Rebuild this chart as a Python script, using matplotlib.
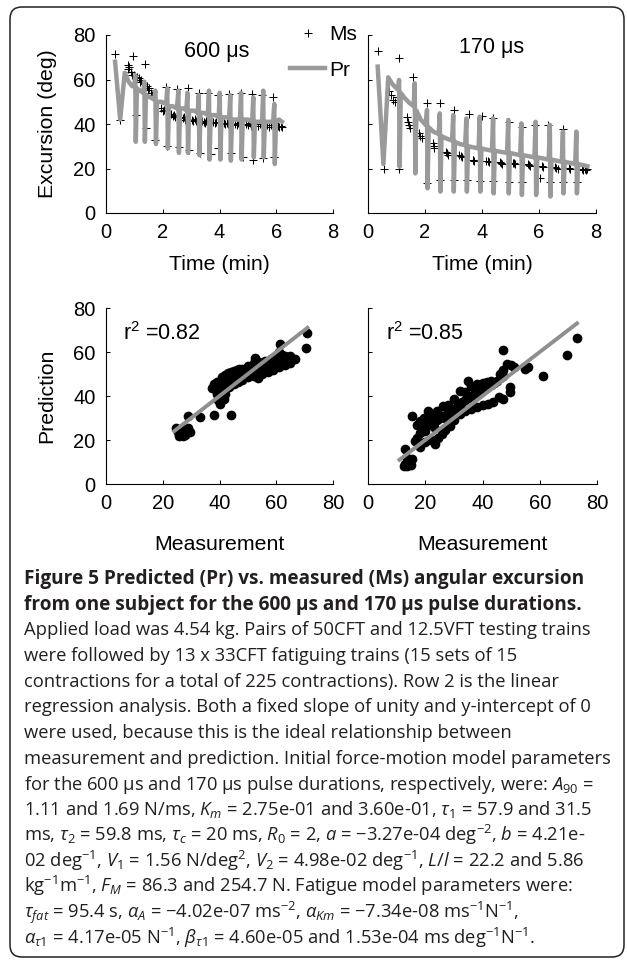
import numpy as np
import matplotlib as mpl
mpl.use('Agg')
import matplotlib.pyplot as plt
from matplotlib.lines import Line2D
from matplotlib.patches import FancyBboxPatch

# ---- data ----
# top row: measured (Ms) and predicted (Pr) excursion, (time [min], deg)
ms_600 = [(0.32, 71.5), (0.50, 42.0), (0.76, 66.5), (0.79, 64.5), (0.82, 65.5),
          (0.88, 63.5), (0.92, 62.0), (0.95, 70.6), (1.00, 62.0), (1.05, 44.0),
          (1.09, 61.0), (1.15, 60.5), (1.20, 59.0), (1.25, 60.0), (1.33, 58.0),
          (1.36, 67.0), (1.40, 38.0), (1.45, 57.0), (1.48, 55.5), (1.52, 56.0),
          (1.57, 54.0), (1.62, 53.0), (1.66, 52.0), (1.74, 33.0), (1.95, 47.0),
          (2.00, 46.0), (2.04, 46.5), (2.10, 56.5), (2.16, 30.0), (2.30, 44.5),
          (2.36, 43.5), (2.40, 44.0), (2.44, 43.0), (2.49, 55.6), (2.57, 29.8),
          (2.66, 43.0), (2.70, 42.5), (2.75, 43.2), (2.80, 42.0), (2.89, 56.0),
          (2.93, 28.3), (3.02, 42.0), (3.07, 41.5), (3.12, 42.3), (3.17, 41.2),
          (3.26, 54.0), (3.31, 27.0), (3.40, 41.5), (3.45, 41.0), (3.50, 40.6),
          (3.54, 41.4), (3.60, 54.0), (3.70, 26.5), (3.78, 40.8), (3.83, 40.3),
          (3.88, 41.0), (3.94, 53.0), (3.96, 29.0), (4.15, 40.5), (4.20, 40.0),
          (4.26, 40.6), (4.30, 39.8), (4.35, 53.5), (4.40, 27.0), (4.55, 40.2),
          (4.60, 39.6), (4.66, 40.4), (4.77, 54.0), (4.83, 25.3), (4.95, 40.0),
          (5.00, 39.5), (5.06, 40.3), (5.10, 39.2), (5.15, 53.5), (5.18, 23.8),
          (5.30, 39.8), (5.36, 39.2), (5.42, 40.0), (5.50, 53.0), (5.54, 24.9),
          (5.68, 39.5), (5.74, 38.8), (5.80, 39.6), (5.90, 52.0), (5.92, 25.3),
          (6.05, 39.3), (6.10, 38.6), (6.15, 39.2), (6.20, 38.8)]

pr_600 = [(0.32, 68.0), (0.50, 42.0), (0.66, 63.0), (0.80, 59.0), (0.92, 57.0),
          (1.00, 57.0), (1.03, 62.0), (1.05, 32.0), (1.09, 56.0), (1.20, 55.0),
          (1.31, 54.0), (1.35, 59.0), (1.37, 32.0), (1.41, 53.0), (1.55, 52.0),
          (1.70, 51.0), (1.74, 55.0), (1.76, 31.0), (1.80, 50.0), (1.95, 50.0),
          (2.12, 49.0), (2.16, 56.0), (2.18, 29.0), (2.22, 48.0), (2.35, 48.0),
          (2.50, 47.0), (2.55, 55.0), (2.57, 27.0), (2.61, 47.0), (2.75, 47.0),
          (2.83, 46.0), (2.87, 54.0), (2.89, 27.0), (2.93, 46.0), (3.10, 46.0),
          (3.23, 45.0), (3.27, 53.0), (3.29, 26.0), (3.33, 45.0), (3.48, 45.0),
          (3.59, 44.0), (3.63, 55.0), (3.65, 24.0), (3.69, 44.0), (3.85, 44.0),
          (3.97, 43.0), (4.01, 54.0), (4.03, 24.0), (4.07, 43.0), (4.22, 43.0),
          (4.34, 43.0), (4.38, 53.0), (4.40, 23.5), (4.44, 42.0), (4.60, 42.0),
          (4.72, 42.0), (4.76, 54.0), (4.78, 24.0), (4.82, 42.0), (5.00, 42.0),
          (5.15, 41.0), (5.19, 52.0), (5.21, 25.0), (5.25, 41.0), (5.40, 41.0),
          (5.50, 41.0), (5.54, 55.0), (5.56, 25.0), (5.60, 41.0), (5.75, 41.0),
          (5.89, 41.0), (5.93, 49.0), (5.95, 22.0), (5.99, 41.0), (6.10, 42.0),
          (6.20, 41.0)]

ms_170 = [(0.34, 73.0), (1.09, 69.5), (1.59, 61.3), (2.06, 49.3), (2.53, 49.3),
          (3.00, 46.3), (3.53, 44.5), (3.99, 43.5), (4.40, 42.6), (4.93, 41.0),
          (5.39, 38.5), (5.86, 39.6), (6.33, 39.6), (6.85, 37.6),
          (0.55, 20.0), (1.09, 20.0), (2.06, 13.3), (2.53, 14.8), (3.00, 14.8),
          (3.46, 14.8), (3.93, 14.3), (4.40, 14.3), (4.93, 13.8), (5.39, 13.8),
          (6.04, 15.6), (6.39, 13.8), (6.85, 13.8), (7.32, 13.8),
          (0.72, 55.0), (0.80, 53.0), (0.88, 51.0), (0.95, 50.0), (1.00, 52.0),
          (1.36, 43.3), (1.40, 41.0), (1.44, 39.5), (1.47, 38.0), (1.80, 35.8),
          (1.84, 34.5), (1.88, 33.6), (2.27, 31.5), (2.30, 30.0), (2.33, 29.0),
          (2.74, 27.5), (2.77, 26.8), (2.80, 26.0), (3.20, 26.0), (3.25, 25.5),
          (3.30, 25.0), (3.67, 24.0), (3.70, 23.6), (3.73, 23.3), (4.15, 23.5),
          (4.20, 23.3), (4.25, 22.8), (4.62, 22.8), (4.66, 22.5), (4.70, 22.2),
          (5.10, 22.6), (5.13, 22.3), (5.16, 21.9), (5.60, 22.0), (5.65, 21.7),
          (5.70, 21.3), (6.10, 21.2), (6.15, 20.8), (6.55, 20.5), (6.60, 20.2),
          (6.65, 19.9), (7.05, 20.4), (7.10, 20.0), (7.50, 19.8), (7.55, 19.4),
          (7.60, 19.9), (7.65, 19.3), (7.70, 19.6)]

pr_170 = [(0.34, 65.8), (0.54, 22.0), (0.71, 61.0), (0.85, 58.0), (1.00, 56.0),
          (1.06, 55.5), (1.09, 59.8), (1.11, 20.8), (1.15, 54.0), (1.30, 51.5),
          (1.45, 49.5), (1.60, 48.0), (1.64, 58.3), (1.66, 17.8), (1.70, 46.0),
          (1.85, 42.0), (2.03, 39.5), (2.07, 46.3), (2.09, 11.1), (2.13, 38.5),
          (2.30, 36.5), (2.48, 35.5), (2.52, 44.8), (2.54, 9.6), (2.58, 34.5),
          (2.75, 33.5), (2.95, 32.5), (2.99, 44.0), (3.01, 9.6), (3.05, 32.0),
          (3.22, 31.0), (3.41, 30.5), (3.45, 42.5), (3.47, 9.6), (3.51, 30.0),
          (3.70, 29.5), (3.88, 29.0), (3.92, 43.3), (3.94, 9.6), (3.98, 29.0),
          (4.15, 28.5), (4.35, 28.0), (4.39, 42.5), (4.41, 8.8), (4.45, 28.0),
          (4.65, 27.5), (4.88, 27.0), (4.92, 41.8), (4.94, 8.8), (4.98, 27.0),
          (5.15, 26.5), (5.34, 26.0), (5.38, 40.3), (5.40, 8.1), (5.44, 26.0),
          (5.65, 25.5), (5.84, 25.0), (5.88, 41.0), (5.90, 8.1), (5.94, 25.0),
          (6.15, 24.5), (6.34, 24.0), (6.38, 39.6), (6.40, 7.4), (6.44, 24.0),
          (6.62, 23.5), (6.80, 23.0), (6.84, 36.6), (6.86, 8.8), (6.90, 23.0),
          (7.10, 22.5), (7.27, 22.0), (7.31, 36.6), (7.33, 8.8), (7.37, 22.0),
          (7.55, 21.5), (7.70, 21.0)]

# bottom row: (measurement, prediction)
sc_600 = [(24.5, 25.5), (25.3, 23.5), (25.8, 22.0), (26.5, 24.2), (27.0, 21.8),
          (27.5, 23.2), (28.0, 22.4), (28.5, 24.3), (29.0, 25.6), (29.6, 23.6),
          (26.8, 25.0), (28.8, 31.0), (33.0, 30.5), (38.0, 31.5), (44.0, 31.5),
          (39.5, 38.0), (40.0, 36.5), (40.5, 39.0), (41.0, 40.5), (41.5, 38.5),
          (42.0, 41.0), (40.0, 41.5), (37.5, 43.5), (38.0, 45.5), (39.0, 46.5),
          (40.0, 47.0), (41.0, 48.5), (42.0, 49.5), (43.0, 50.5), (44.0, 51.0),
          (45.0, 51.5), (46.0, 52.0), (47.0, 52.5), (48.0, 52.5), (50.0, 53.5),
          (52.0, 55.0), (52.5, 57.5), (54.0, 55.5), (56.0, 56.0), (58.0, 57.0),
          (60.0, 58.0), (61.0, 60.0), (61.4, 63.6), (62.0, 58.5), (63.0, 58.0),
          (64.0, 57.5), (65.0, 58.0), (66.5, 57.0), (38.5, 43.0), (39.5, 44.0),
          (40.5, 45.0), (41.5, 45.5), (42.5, 46.5), (43.5, 47.5), (44.5, 48.0),
          (45.5, 49.0), (46.5, 49.5), (47.5, 50.0), (48.5, 50.5), (49.5, 51.0),
          (50.5, 51.5), (51.5, 52.0), (52.5, 52.5), (53.5, 53.0), (54.5, 53.5),
          (55.5, 54.0), (56.5, 54.5), (57.5, 55.0), (58.5, 55.5), (59.5, 56.0),
          (60.5, 56.0), (61.5, 56.5), (62.5, 56.5), (63.5, 56.0), (39.0, 41.0),
          (40.5, 42.0), (42.0, 43.0), (43.5, 44.0), (45.0, 45.5), (46.5, 46.5),
          (48.0, 47.5), (50.0, 48.5), (52.0, 49.0), (53.5, 48.0), (55.0, 50.0),
          (57.0, 51.0), (59.0, 52.0), (61.0, 53.0), (63.0, 54.0), (65.0, 55.0),
          (70.6, 62.0), (71.0, 68.6)]

sc_170 = [(12.5, 8.0), (13.0, 9.2), (13.5, 8.4), (14.0, 10.0), (14.5, 9.0),
          (15.0, 8.5), (14.6, 10.8), (15.3, 11.2), (13.5, 12.0), (12.9, 15.9),
          (15.2, 31.1), (16.4, 19.7), (17.0, 21.0), (17.0, 27.0), (18.0, 16.7),
          (18.0, 23.0), (18.0, 28.8), (19.0, 25.0), (19.5, 30.0), (20.0, 19.0),
          (20.0, 24.0), (21.0, 27.0), (21.0, 33.3), (22.0, 20.0), (22.0, 28.0),
          (22.0, 31.0), (23.0, 26.0), (23.4, 18.2), (24.0, 29.0), (24.0, 33.0),
          (24.5, 21.0), (25.0, 30.0), (25.7, 22.7), (26.0, 31.0), (26.3, 35.6),
          (27.0, 24.5), (27.0, 30.0), (28.0, 33.0), (28.0, 36.0), (28.6, 26.5),
          (29.0, 32.0), (30.0, 29.0), (30.0, 34.0), (30.0, 38.5), (31.0, 35.0),
          (32.0, 36.0), (32.1, 31.8), (32.1, 42.4), (33.0, 37.5), (34.0, 33.0),
          (34.0, 38.0), (34.0, 42.0), (35.0, 39.0), (35.0, 47.0), (36.0, 34.0),
          (36.0, 40.0), (36.0, 44.5), (37.0, 41.0), (38.0, 34.8), (38.0, 42.0),
          (38.0, 45.5), (39.0, 42.5), (40.0, 36.0), (40.0, 43.0), (40.0, 46.0),
          (41.0, 44.0), (41.5, 46.2), (42.0, 36.5), (42.0, 44.5), (43.0, 45.0),
          (43.0, 47.0), (43.8, 37.1), (44.0, 46.0), (45.0, 47.0), (45.6, 39.4),
          (46.0, 48.0), (46.0, 50.0), (47.0, 38.5), (47.0, 49.0), (47.0, 52.0),
          (48.5, 54.5), (49.6, 41.7), (49.6, 44.0), (50.0, 54.0), (51.0, 53.0),
          (55.0, 52.3), (56.0, 53.0), (47.3, 60.9), (61.1, 49.2), (69.5, 58.8),
          (73.0, 66.4)]

# unity line (slope 1, intercept 0) over the measured range
fit_600 = [24, 71]
fit_170 = [11, 73]
r2_600 = 0.82
r2_170 = 0.85

caption_bold = ["Figure 5 Predicted (Pr) vs. measured (Ms) angular excursion",
                "from one subject for the 600 \u03bcs and 170 \u03bcs pulse durations."]
caption_body = [
    "Applied load was 4.54 kg. Pairs of 50CFT and 12.5VFT testing trains",
    "were followed by 13 x 33CFT fatiguing trains (15 sets of 15",
    "contractions for a total of 225 contractions). Row 2 is the linear",
    "regression analysis. Both a fixed slope of unity and y-intercept of 0",
    "were used, because this is the ideal relationship between",
    "measurement and prediction. Initial force-motion model parameters",
    "for the 600 \u03bcs and 170 \u03bcs pulse durations, respectively, were: $A_{90}$ =",
    r"1.11 and 1.69 N/ms, $K_m$ = 2.75e-01 and 3.60e-01, $\tau_1$ = 57.9 and 31.5",
    r"ms, $\tau_2$ = 59.8 ms, $\tau_c$ = 20 ms, $R_0$ = 2, $a$ = " + "\u2212" + r"3.27e-04 deg$^{-2}$, $b$ = 4.21e-",
    r"02 deg$^{-1}$, $V_1$ = 1.56 N/deg$^2$, $V_2$ = 4.98e-02 deg$^{-1}$, $L/l$ = 22.2 and 5.86",
    r"kg$^{-1}$m$^{-1}$, $F_M$ = 86.3 and 254.7 N. Fatigue model parameters were:",
    r"$\tau_{fat}$ = 95.4 s, $\alpha_A$ = " + "\u2212" + r"4.02e-07 ms$^{-2}$, $\alpha_{Km}$ = " + "\u2212" + r"7.34e-08 ms$^{-1}$N$^{-1}$,",
    r"$\alpha_{\tau 1}$ = 4.17e-05 N$^{-1}$, $\beta_{\tau 1}$ = 4.60e-05 and 1.53e-04 ms deg$^{-1}$N$^{-1}$.",
]

plt.rcParams['font.family'] = ['Liberation Sans', 'DejaVu Sans']
plt.rcParams['mathtext.fontset'] = 'custom'
plt.rcParams['mathtext.rm'] = 'Open Sans'
plt.rcParams['mathtext.it'] = 'Open Sans:italic'
plt.rcParams['mathtext.bf'] = 'Open Sans:bold'

W, H = 627.0, 964.0
gray = '#9a9a9a'
fs_tick = 14.5
fs_lab = 15.3

fig = plt.figure(figsize=(W / 100, H / 100), dpi=100)


def px_axes(x0, x1, ytop, ybot):
    return fig.add_axes([x0 / W, 1 - ybot / H, (x1 - x0) / W, (ybot - ytop) / H])


def style(ax, xmax, xticks, ylabels=True):
    for s in ['top', 'right']:
        ax.spines[s].set_visible(False)
    for s in ['left', 'bottom']:
        ax.spines[s].set_linewidth(0.8)
    ax.set_xlim(0, xmax)
    ax.set_ylim(0, 80)
    ax.set_xticks(xticks)
    ax.set_yticks([0, 20, 40, 60, 80])
    ax.tick_params(direction='in', length=3, width=0.7, labelsize=fs_tick)
    ax.tick_params(axis='x', pad=7.5)
    ax.tick_params(axis='y', pad=7.5)
    if not ylabels:
        ax.set_yticklabels([])


ax1 = px_axes(106, 333, 35, 213)
ax2 = px_axes(368, 596, 35, 213)
ax3 = px_axes(106, 333, 308, 484)
ax4 = px_axes(368, 597, 308, 484)

for ax, ms, pr, title, tx, ty in [(ax1, ms_600, pr_600, '600 \u03bcs', 3.9, 72.5),
                                  (ax2, ms_170, pr_170, '170 \u03bcs', 4.35, 74.5)]:
    m = np.array(ms)
    p = np.array(pr)
    ax.plot(m[:, 0], m[:, 1], ls='none', marker='+', color='k', ms=6, mew=0.75, zorder=2)
    ax.plot(p[:, 0], p[:, 1], color=gray, lw=3.2, zorder=3)
    ax.text(tx, ty, title, ha='center', va='center', fontsize=15.5)
    ax.set_xlabel('Time (min)', fontsize=fs_lab)

style(ax1, 8, [0, 2, 4, 6, 8])
style(ax2, 8, [0, 2, 4, 6, 8], ylabels=False)
ax1.set_ylabel('Excursion (deg)', fontsize=fs_lab)
ax1.xaxis.set_label_coords(0.5, -0.238)
ax2.xaxis.set_label_coords(0.5, -0.238)
ax1.yaxis.set_label_coords(-0.218, 0.5)

for ax, sc, fit, r2, rx in [(ax3, sc_600, fit_600, r2_600, 6.0),
                            (ax4, sc_170, fit_170, r2_170, 6.3)]:
    s = np.array(sc)
    ax.plot(s[:, 0], s[:, 1], ls='none', marker='o', color='k', ms=7, mew=0, zorder=2)
    ax.plot(fit, fit, color='#8f8f8f', lw=2.8, zorder=3)
    ax.text(rx, 68.5, r'r$\mathregular{^2}$ =%.2f' % r2, ha='left', va='center', fontsize=15.5)
    ax.set_xlabel('Measurement', fontsize=fs_lab)

style(ax3, 80, [0, 20, 40, 60, 80])
style(ax4, 80, [0, 20, 40, 60, 80], ylabels=False)
ax3.set_ylabel('Prediction', fontsize=fs_lab)
ax3.xaxis.set_label_coords(0.5, -0.292)
ax4.xaxis.set_label_coords(0.5, -0.292)
ax3.yaxis.set_label_coords(-0.218, 0.5)

h_ms = Line2D([], [], ls='none', marker='+', color='k', ms=6, mew=0.75)
h_pr = Line2D([], [], color=gray, lw=3.2)
fig.legend([h_ms, h_pr], ['Ms', 'Pr'], loc='upper left',
           bbox_to_anchor=(290 / W, 1 - 25 / H), frameon=False, fontsize=15,
           handlelength=1.68, handletextpad=0.2, labelspacing=0.8,
           borderpad=0, borderaxespad=0)

# caption
for i, line in enumerate(caption_bold + caption_body):
    yb = 584 + 25.7 * i
    bold = i < len(caption_bold)
    fig.text(24 / W, 1 - yb / H, line, ha='left', va='baseline',
             fontsize=13.7 if bold else 13.2, family=['Open Sans', 'DejaVu Sans'],
             weight='bold' if bold else 'normal', color='#231f20')

# rounded frame round the whole figure
frame = FancyBboxPatch((0.10, 0.07), 6.14, 9.50,
                       boxstyle='round,pad=0,rounding_size=0.12',
                       transform=fig.dpi_scale_trans, fill=False,
                       ec='#222222', lw=1.1)
fig.patches.append(frame)

fig.savefig('out.png', dpi=100)
